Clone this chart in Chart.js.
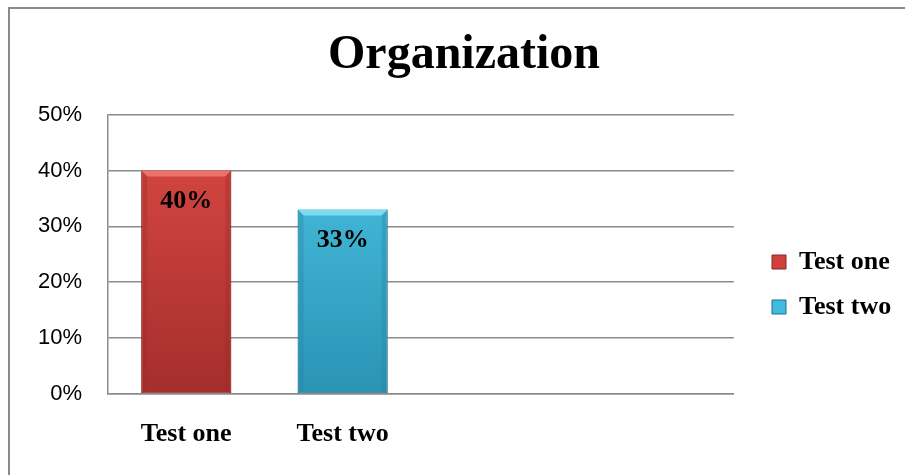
<!DOCTYPE html>
<html>
<head>
<meta charset="utf-8">
<script src="https://cdn.jsdelivr.net/npm/chart.js@4/dist/chart.umd.min.js"></script>
<style>
  html, body { margin: 0; padding: 0; background: #fff; overflow: hidden; }
  #wrap { position: absolute; left: 0; top: 0; width: 905px; height: 475px; }
  #frame { position: absolute; left: 8px; top: 7px; width: 920px; height: 480px;
           border-left: 2px solid #8a8a8a; border-top: 2px solid #8a8a8a; pointer-events: none; }
</style>
</head>
<body>
<div id="wrap"><canvas id="c" width="905" height="475"></canvas></div>
<div id="frame"></div>
<script>
// ---- data ----
const chartTitle = "Organization";
const categories = ["Test one", "Test two", "", ""];
const seriesNames = ["Test one", "Test two"];
const testOneValues = [40, null, null, null];
const testTwoValues = [null, 33, null, null];
const yTicks = [0, 10, 20, 30, 40, 50];

// ---- styles ----
const palette = [
  { top: "#DC4A44", bottom: "#A52E2D", border: "#8A2424", light: "#EE7A70", dark: "#9A2A29", legend: "#D0403C" },
  { top: "#4CC6E6", bottom: "#2A93B4", border: "#1E6E87", light: "#86E2F6", dark: "#2585A4", legend: "#3FBCDF" }
];

function gradientFor(i) {
  return function (ctx) {
    const chart = ctx.chart;
    const area = chart.chartArea;
    if (!area) return palette[i].top;
    const g = chart.ctx.createLinearGradient(0, area.top, 0, area.bottom);
    g.addColorStop(0, palette[i].top);
    g.addColorStop(1, palette[i].bottom);
    return g;
  };
}

const bevelPlugin = {
  id: "bevelAndLabels",
  afterDatasetsDraw(chart) {
    const ctx = chart.ctx;
    chart.data.datasets.forEach((ds, di) => {
      const meta = chart.getDatasetMeta(di);
      meta.data.forEach((el, idx) => {
        const v = ds.data[idx];
        if (v === null || v === undefined) return;
        const p = el.getProps(["x", "y", "base", "width"], true);
        const l = p.x - p.width / 2, r = p.x + p.width / 2, t = p.y, b = p.base;
        const s = 6;
        ctx.save();
        ctx.fillStyle = palette[di].light;
        ctx.globalAlpha = 0.85;
        ctx.beginPath();
        ctx.moveTo(l, t); ctx.lineTo(r, t); ctx.lineTo(r - s, t + s); ctx.lineTo(l + s, t + s); ctx.closePath();
        ctx.fill();
        ctx.globalAlpha = 0.35;
        ctx.fillStyle = palette[di].dark;
        ctx.beginPath();
        ctx.moveTo(l, t); ctx.lineTo(l + s, t + s); ctx.lineTo(l + s, b - 2); ctx.lineTo(l, b); ctx.closePath();
        ctx.fill();
        ctx.beginPath();
        ctx.moveTo(r, t); ctx.lineTo(r - s, t + s); ctx.lineTo(r - s, b - 2); ctx.lineTo(r, b); ctx.closePath();
        ctx.fill();
        ctx.globalAlpha = 1;
        ctx.fillStyle = "#000";
        ctx.font = "bold 26px 'Liberation Serif', 'Times New Roman', serif";
        ctx.textAlign = "center";
        ctx.textBaseline = "middle";
        ctx.fillText(v + "%", p.x, t + 31);
        ctx.restore();
      });
    });
  },
  afterLayout(chart) {
    const lg = chart.legend;
    if (lg) {
      const h = lg.height, w = lg.width;
      lg.left = 753; lg.right = 753 + w;
      lg.top = 230; lg.bottom = 230 + h;
    }
    const tb = chart.titleBlock;
    if (tb) { tb.left = 23; tb.right = 905; }
  }
};

const gridColor = "#8c8c8c";

new Chart(document.getElementById("c"), {
  type: "bar",
  data: {
    labels: categories,
    datasets: [
      { label: seriesNames[0], data: testOneValues, backgroundColor: gradientFor(0),
        borderColor: palette[0].border, borderWidth: 1, borderSkipped: false },
      { label: seriesNames[1], data: testTwoValues, backgroundColor: gradientFor(1),
        borderColor: palette[1].border, borderWidth: 1, borderSkipped: false }
    ]
  },
  plugins: [bevelPlugin],
  options: {
    responsive: false,
    animation: false,
    devicePixelRatio: 1,
    layout: { padding: { left: 15, right: 23, top: 7, bottom: 0 } },
    datasets: { bar: { barPercentage: 0.72, categoryPercentage: 0.8 } },
    plugins: {
      title: {
        display: true, text: chartTitle, color: "#000",
        font: { family: "'Liberation Serif', 'Times New Roman', serif", size: 48, weight: "bold", lineHeight: 1.2 },
        padding: { top: 20, bottom: 30 }
      },
      legend: {
        display: true, position: "right", align: "start", maxWidth: 149,
        labels: {
          color: "#000", boxWidth: 14, boxHeight: 14, padding: 19,
          font: { family: "'Liberation Serif', 'Times New Roman', serif", size: 26, weight: "bold" },
          generateLabels(chart) {
            return chart.data.datasets.map((ds, i) => ({
              text: ds.label, fillStyle: palette[i].legend, strokeStyle: palette[i].border,
              lineWidth: 1, hidden: false, datasetIndex: i, fontColor: "#000"
            }));
          }
        }
      },
      tooltip: { enabled: false }
    },
    scales: {
      x: {
        stacked: true,
        afterFit(s) { s.height = 81; },
        grid: { display: false, drawTicks: false },
        border: { display: true, color: gridColor, width: 1.5 },
        ticks: {
          color: "#000", padding: 25, maxRotation: 0, autoSkip: false,
          font: { family: "'Liberation Serif', 'Times New Roman', serif", size: 26, weight: "bold" }
        }
      },
      y: {
        stacked: false,
        min: yTicks[0], max: yTicks[yTicks.length - 1],
        afterFit(s) { s.width = 93; },
        afterBuildTicks(s) { s.ticks = yTicks.map(v => ({ value: v })); },
        grid: { color: gridColor, lineWidth: 1.5, drawTicks: false },
        border: { display: true, color: gridColor, width: 1.5 },
        ticks: {
          color: "#000", padding: 26,
          font: { family: "'Liberation Sans', Arial, sans-serif", size: 22 },
          callback: v => v + "%"
        }
      }
    }
  }
});
</script>
</body>
</html>
